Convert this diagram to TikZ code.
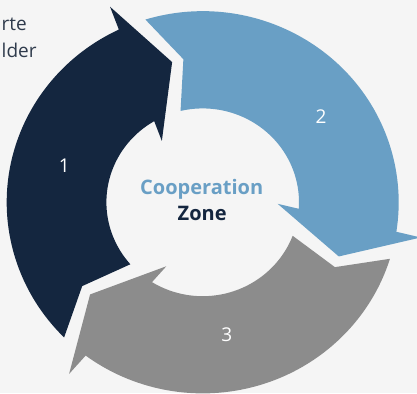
\documentclass[tikz,border=0pt]{standalone}
\usepackage{fontspec}
\setmainfont{Open Sans}
\definecolor{navy}{HTML}{14263F}
\definecolor{steel}{HTML}{699FC5}
\definecolor{greyarrow}{HTML}{8C8C8C}
\definecolor{bgc}{HTML}{F5F5F5}
\definecolor{sidetext}{HTML}{2F3B4C}
% #1 colour, #2 tip angle of the previous arrow (tail), #3 tip angle of this arrow
\newcommand\cyclearrow[3]{%
  \fill[#1] (#2+5:196) arc[start angle=#2+5, end angle=#3+13.33, radius=196]
    -- (#3+12.8:221) -- (#3:147) -- (#3+21:75) -- (#3+18.24:96.3)
    arc[start angle=#3+18.24, end angle=#2+1.3, radius=96.3]
    -- (#2-4.5:148) -- cycle;}
\tikzset{
  numlabel/.style={text=white, inner sep=0pt, anchor=base, font=\fontsize{19}{22}\selectfont},
  centerlabel/.style={inner sep=0pt, anchor=base, font=\fontsize{20}{24}\selectfont\bfseries},
  sidelabel/.style={text=sidetext, inner sep=0pt, anchor=base west, font=\fontsize{19}{24}\selectfont}
}
\begin{document}
\begin{tikzpicture}[x=1pt, y=1pt]
  \fill[bgc] (-202.7,-190.7) rectangle (214.3,202.3);
  \useasboundingbox (-202.7,-190.7) rectangle (214.3,202.3);
  \begin{scope}[yscale=0.975]
    \cyclearrow{navy}{220}{102}
    \cyclearrow{steel}{102}{-22.2}
    \cyclearrow{greyarrow}{-22.2}{-140}
  \end{scope}
  \node[centerlabel, text=steel] (coop) at (-1,7.8) {Cooperation};
  \node[centerlabel, text=navy] (zone) at (-0.5,-18.4) {Zone};
  \node[numlabel] (n1) at (-138.4,29.6) {1};
  \node[numlabel] (n2) at (118.3,78.3) {2};
  \node[numlabel] (n3) at (24,-139.4) {3};
  \node[sidelabel] (s1) at (-201.2,171.3) {rte};
  \node[sidelabel] (s2) at (-201.2,145) {lder};
\end{tikzpicture}
\end{document}
